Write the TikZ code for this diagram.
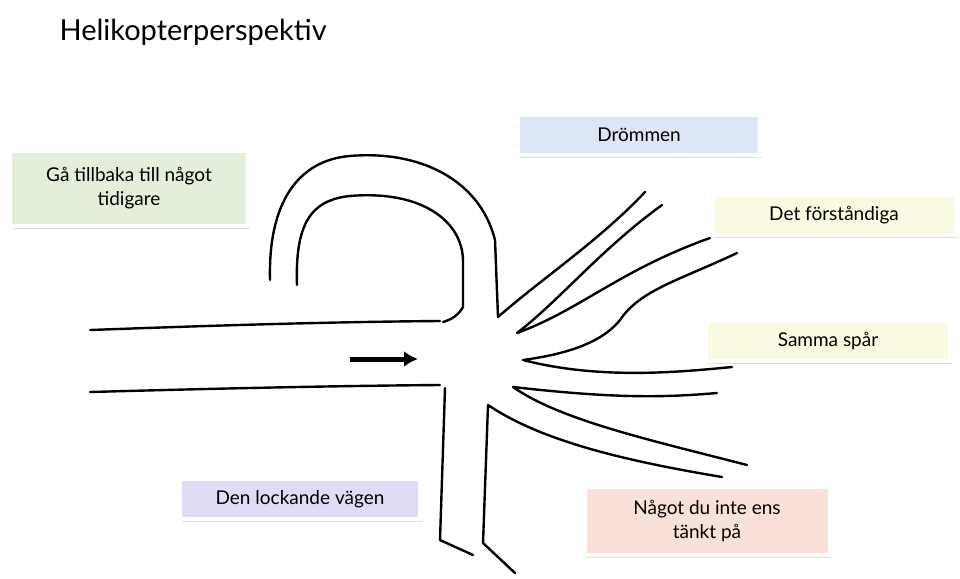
\documentclass[tikz,border=0pt]{standalone}
\usepackage{fontspec}
\setmainfont{Lato}
\usetikzlibrary{shadows,arrows.meta}
\definecolor{cg}{HTML}{E3EEDB}
\definecolor{cb}{HTML}{DCE6F4}
\definecolor{cy}{HTML}{FAFAE0}
\definecolor{cl}{HTML}{E1DCF5}
\definecolor{cp}{HTML}{F9E0D8}
\tikzset{lbl/.style={draw=white,line width=4pt,drop shadow={shadow xshift=2pt,shadow yshift=-3pt,opacity=0.25},minimum height=40pt,align=center,font=\fontsize{19}{24}\selectfont,inner sep=2pt},
 pen/.style={line width=2.4pt,line cap=round,line join=round}}
\begin{document}
\begin{tikzpicture}[x=1pt,y=-1pt]
\useasboundingbox (0,0) rectangle (960,578);
\node[anchor=west,font=\fontsize{29}{34}\selectfont] (title) at (56,32) {Helikopterperspektiv};
\node[lbl,fill=cg,minimum width=238pt,minimum height=75pt] (ga) at (129,188) {Gå tillbaka till något\\tidigare};
\node[lbl,fill=cb,minimum width=242pt] (dr) at (639,135) {Drömmen};
\node[lbl,fill=cy,minimum width=243pt] (df) at (834,215) {Det förståndiga};
\node[lbl,fill=cy,minimum width=244pt] (ss) at (828,341) {Samma spår};
\node[lbl,fill=cl,minimum width=240pt] (dl) at (300,499) {Den lockande vägen};
\node[lbl,fill=cp,minimum width=245pt,minimum height=68pt] (nd) at (707,521) {Något du inte ens\\tänkt på};
% road
\draw[pen] (90,330) .. controls (200,326) and (320,322) .. (440,321);
\draw[pen] (90,392) .. controls (200,389) and (320,386) .. (440,385);
\draw[-{Latex[length=14pt,width=16pt]},line width=5pt] (350,359) -- (418,359);
% loops
\draw[pen] (270,280) .. controls (268,200) and (300,160) .. (350,156)
  .. controls (420,150) and (480,180) .. (495,240) -- (498,317)
  .. controls (540,280) and (600,240) .. (645,192);
\draw[pen] (297,285) .. controls (295,225) and (310,200) .. (350,196)
  .. controls (420,190) and (462,220) .. (463,260) -- (463,307) .. controls (458,316) and (450,320) .. (443,322);
% rays
\draw[pen] (662,205) .. controls (600,250) and (560,300) .. (517,333)
  .. controls (580,310) and (620,270) .. (710,238);
\draw[pen] (737,253) .. controls (680,280) and (640,290) .. (620,320) .. controls (600,345) and (560,355) .. (523,360)
  .. controls (600,380) and (680,372) .. (732,367);
\draw[pen] (717,393) .. controls (660,398) and (610,398) .. (513,387)
  .. controls (560,420) and (650,440) .. (747,465);
\draw[pen] (722,477) .. controls (620,460) and (540,440) .. (488,405)
  -- (483,543) -- (515,573);
\draw[pen] (445,388) -- (440,540) -- (473,555);
\end{tikzpicture}
\end{document}
